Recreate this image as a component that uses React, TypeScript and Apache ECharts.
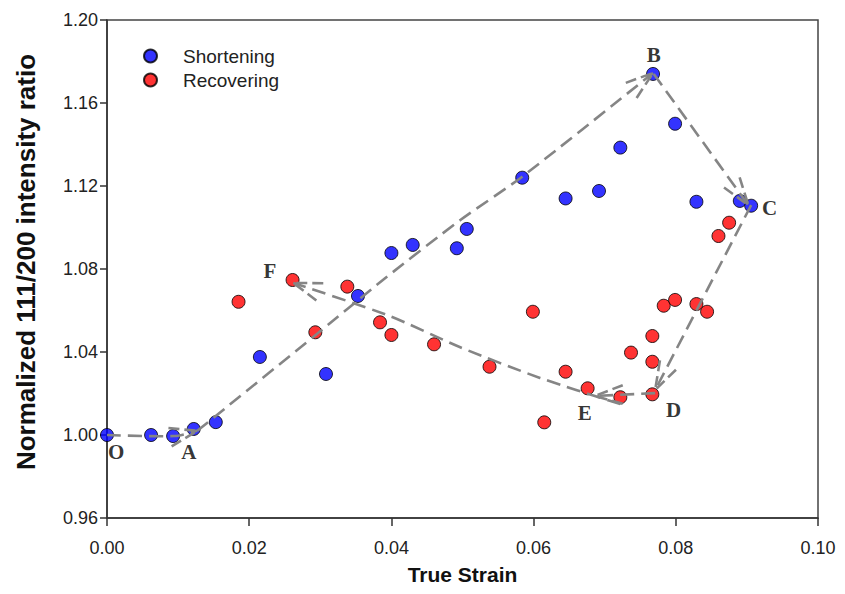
import React, { useEffect, useRef } from "react";
import * as echarts from "echarts";

const shorteningX = [0, 0.0062, 0.0093, 0.0122, 0.0153, 0.0215, 0.0308, 0.0353, 0.04, 0.043, 0.0492, 0.0506, 0.0584, 0.0645, 0.0692, 0.0722, 0.0768, 0.0799, 0.0829, 0.089, 0.0906];
const shorteningY = [1.0, 1.0, 0.9995, 1.0029, 1.0062, 1.0376, 1.0294, 1.067, 1.0877, 1.0916, 1.09, 1.0993, 1.124, 1.114, 1.1176, 1.1385, 1.174, 1.15, 1.1124, 1.1128, 1.1105];

const recoveringX = [0.0185, 0.0261, 0.0293, 0.0338, 0.0384, 0.04, 0.046, 0.0538, 0.0599, 0.0615, 0.0645, 0.0676, 0.0722, 0.0737, 0.0767, 0.0767, 0.0767, 0.0783, 0.0799, 0.0829, 0.0844, 0.086, 0.0875];
const recoveringY = [1.0642, 1.0747, 1.0495, 1.0715, 1.0543, 1.0482, 1.0437, 1.0329, 1.0594, 1.0061, 1.0305, 1.0225, 1.0182, 1.0397, 1.0196, 1.0353, 1.0477, 1.0623, 1.0651, 1.0631, 1.0594, 1.0959, 1.1023];

const xTicks = ["0.00", "0.02", "0.04", "0.06", "0.08", "0.10"];
const yTicks = ["0.96", "1.00", "1.04", "1.08", "1.12", "1.16", "1.20"];

// annotation paths (data coordinates), arrow at the last point
const pathOA = [[0, 1.0], [0.0095, 0.9995], [0.0127, 1.002]];
const pathAB = [[0.0127, 1.002], [0.029, 1.0472], [0.0388, 1.0747], [0.0497, 1.1036], [0.0584, 1.1245], [0.0768, 1.1745]];
const pathBC = [[0.0769, 1.174], [0.0902, 1.1108]];
const pathCD = [[0.0906, 1.1108], [0.0771, 1.0217]];
const pathDE = [[0.0771, 1.0202], [0.0686, 1.0188]];
const pathEF = [[0.0722, 1.0149], [0.0609, 1.0275], [0.0496, 1.0424], [0.0398, 1.0573], [0.0262, 1.0733]];

const pointLabels = ["O", "A", "B", "C", "D", "E", "F"];
const pointLabelX = [0.0013, 0.0115, 0.0769, 0.0932, 0.0797, 0.0672, 0.0229];
const pointLabelY = [0.9918, 0.9918, 1.1831, 1.1094, 1.012, 1.0106, 1.079];

function arrowSeries(path: number[][]) {
  return {
    type: "custom",
    coordinateSystem: "cartesian2d",
    data: [[path[0][0], path[0][1]]],
    silent: true,
    clip: false,
    z: 5,
    renderItem: (_params: any, api: any) => {
      const pts = path.map((p) => api.coord(p));
      const n = pts.length;
      const tip = pts[n - 1];
      const prev = pts[n - 2];
      const ang = Math.atan2(tip[1] - prev[1], tip[0] - prev[0]);
      const L = 30;
      const spread = 0.32;
      const w1 = [tip[0] - L * Math.cos(ang - spread), tip[1] - L * Math.sin(ang - spread)];
      const w2 = [tip[0] - L * Math.cos(ang + spread), tip[1] - L * Math.sin(ang + spread)];
      const style = { stroke: "#858585", lineWidth: 2.6, lineDash: [14, 7], fill: null };
      return {
        type: "group",
        children: [
          { type: "polyline", shape: { points: pts, smooth: n > 2 ? 0.25 : 0 }, style },
          { type: "polyline", shape: { points: [w1, tip, w2] }, style: { ...style, lineDash: [11, 5] } },
        ],
      };
    },
  };
}

export default function App() {
  const ref = useRef<HTMLDivElement>(null);
  useEffect(() => {
    if (!ref.current) return;
    const chart = echarts.init(ref.current, undefined, { renderer: "svg" });
    const markerStyle = { borderColor: "#000", borderWidth: 1 };
    chart.setOption({
      animation: false,
      backgroundColor: "#fff",
      grid: { left: 107, right: 27, top: 20, bottom: 76, show: true, borderColor: "#444", borderWidth: 1.5 },
      legend: {
        data: ["Shortening", "Recovering"],
        orient: "vertical",
        left: 138,
        top: 41,
        itemWidth: 13,
        itemHeight: 13,
        itemGap: 4,
        icon: "circle",
        textStyle: { fontFamily: "Liberation Sans", fontSize: 19, lineHeight: 20, color: "#222", padding: [0, 0, 0, 21] },
      },
      xAxis: {
        type: "value",
        min: 0,
        max: 0.1,
        interval: 0.02,
        name: "True Strain",
        nameLocation: "middle",
        nameGap: 46,
        nameTextStyle: { fontFamily: "Liberation Sans", fontWeight: "bold", fontSize: 21, color: "#111" },
        axisLine: { lineStyle: { color: "#333", width: 1.5 } },
        axisTick: { show: true, inside: false, length: 8, lineStyle: { color: "#333", width: 1.5 } },
        axisLabel: {
          fontFamily: "Liberation Sans",
          fontSize: 18,
          color: "#222",
          margin: 21,
          formatter: (v: number) => xTicks[Math.round(v / 0.02)] ?? "",
        },
        splitLine: { show: false },
      },
      yAxis: {
        type: "value",
        min: 0.96,
        max: 1.2,
        interval: 0.04,
        name: "Normalized 111/200 intensity ratio",
        nameLocation: "middle",
        nameGap: 68,
        nameTextStyle: { fontFamily: "Liberation Sans", fontWeight: "bold", fontSize: 26, color: "#111", padding: [0, 0, 0, 14] },
        axisLine: { show: true, lineStyle: { color: "#333", width: 1.5 } },
        axisTick: { show: true, inside: false, length: 7, lineStyle: { color: "#333", width: 1.5 } },
        axisLabel: {
          fontFamily: "Liberation Sans",
          fontSize: 18,
          color: "#222",
          margin: 9,
          formatter: (v: number) => yTicks[Math.round((v - 0.96) / 0.04)] ?? "",
        },
        splitLine: { show: false },
      },
      series: [
        {
          name: "Recovering",
          type: "scatter",
          symbol: "circle",
          symbolSize: 13,
          itemStyle: { color: "#ff0000", ...markerStyle },
          data: recoveringX.map((x, i) => [x, recoveringY[i]]),
          z: 3,
        },
        {
          name: "Shortening",
          type: "scatter",
          symbol: "circle",
          symbolSize: 13,
          itemStyle: { color: "#0000ff", ...markerStyle },
          data: shorteningX.map((x, i) => [x, shorteningY[i]]),
          z: 4,
        },
        arrowSeries(pathOA),
        arrowSeries(pathAB),
        arrowSeries(pathBC),
        arrowSeries(pathCD),
        arrowSeries(pathDE),
        arrowSeries(pathEF),
        {
          name: "labels",
          type: "scatter",
          symbolSize: 0,
          silent: true,
          z: 6,
          data: pointLabels.map((t, i) => ({ name: t, value: [pointLabelX[i], pointLabelY[i]] })),
          label: {
            show: true,
            position: "inside",
            formatter: (p: any) => p.name,
            fontFamily: "Liberation Serif",
            fontWeight: "bold",
            fontSize: 21,
            color: "#000",
          },
        },
      ],
    });
    return () => chart.dispose();
  }, []);
  return (
    <div
      ref={ref}
      style={{ position: "fixed", left: 0, top: 0, width: 845, height: 594, background: "#fff" }}
    />
  );
}
